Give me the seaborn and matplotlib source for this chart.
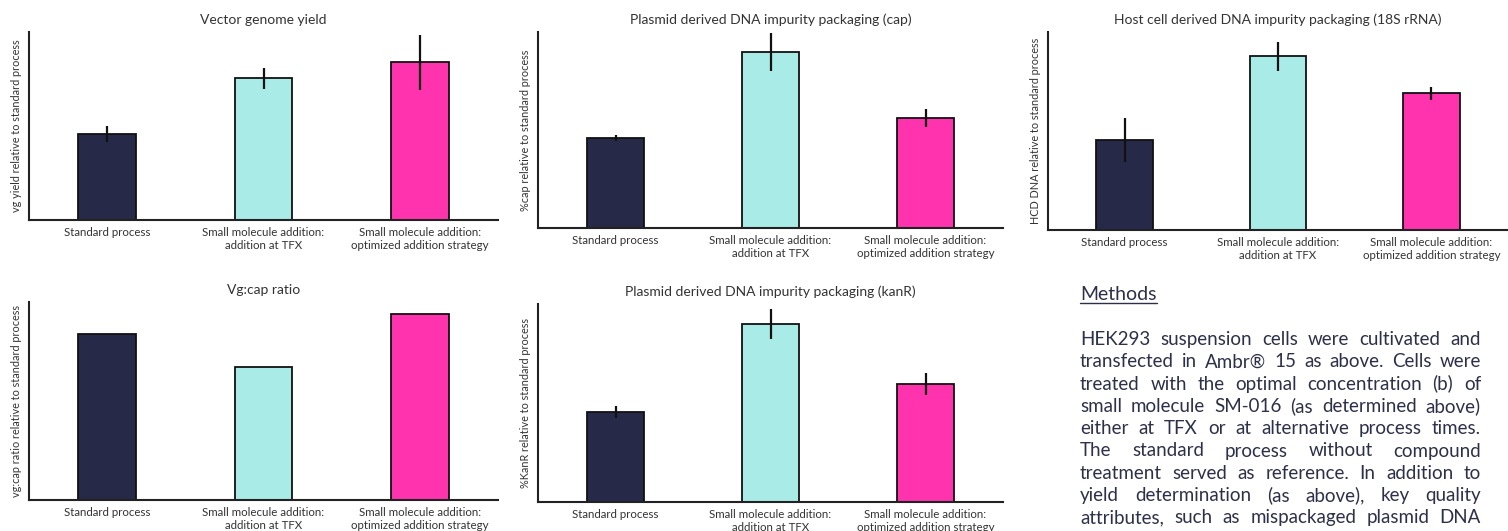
import pandas as pd
import seaborn as sns
import matplotlib.pyplot as plt
from matplotlib.lines import Line2D

# Categories and colours
groups = ['Standard process',
          'Small molecule addition:\naddition at TFX',
          'Small molecule addition:\noptimized addition strategy']
bar_colors = ['#262a48', '#a8ebe7', '#ff33ad']

# Values relative to standard process (no scale shown in the original)
vg_yield = [1.00, 1.65, 1.84]
vg_yield_err = [0.09, 0.12, 0.32]
cap = [1.00, 1.96, 1.22]
cap_err = [0.03, 0.21, 0.10]
hcd = [1.00, 1.93, 1.52]
hcd_err = [0.24, 0.16, 0.07]
vg_cap_ratio = [1.00, 0.80, 1.12]
kanr = [1.00, 1.98, 1.31]
kanr_err = [0.07, 0.17, 0.12]

methods_lines = [
    'HEK293 suspension cells were cultivated and',
    'transfected in Ambr\u00ae 15 as above. Cells were',
    'treated with the optimal concentration (b) of',
    'small molecule SM-016 (as determined above)',
    'either at TFX or at alternative process times.',
    'The standard process without compound',
    'treatment served as reference. In addition to',
    'yield determination (as above), key quality',
    'attributes, such as mispackaged plasmid DNA',
]

sns.set_theme(style='white')
plt.rcParams['font.family'] = ['Lato', 'DejaVu Sans']
label_color = '#333333'

W, H = 1508, 531
fig = plt.figure(figsize=(W / 100, H / 100), dpi=100)


def px_rect(left, top, right, bottom):
    return [left / W, 1 - bottom / H, (right - left) / W, (bottom - top) / H]


def draw_panel(rect, values, errors, title, ylabel, ymax):
    ax = fig.add_axes(rect)
    df = pd.DataFrame({'group': groups, 'value': values})
    sns.barplot(data=df, x='group', y='value', hue='group', palette=bar_colors,
                saturation=1, width=0.37, edgecolor='#111111', linewidth=1.3,
                legend=False, ax=ax)
    if errors is not None:
        ax.errorbar(range(len(groups)), values, yerr=errors, fmt='none',
                    ecolor='#111111', elinewidth=1.6, capsize=0)
    ax.set_xlim(-0.5, 2.5)
    ax.set_ylim(0, ymax)
    ax.set_yticks([])
    ax.set_xlabel('')
    ax.set_ylabel(ylabel, fontsize=7.8, color=label_color, labelpad=5)
    ax.set_title(title, fontsize=10, color=label_color, pad=6)
    ax.tick_params(axis='x', length=0, pad=5, labelsize=8.3, labelcolor=label_color)
    for lbl in ax.get_xticklabels():
        lbl.set_linespacing(1.25)
    sns.despine(ax=ax)
    for side in ['left', 'bottom']:
        ax.spines[side].set_linewidth(1.5)
        ax.spines[side].set_color('#222222')
    return ax


draw_panel(px_rect(29, 32, 498, 220), vg_yield, vg_yield_err,
           'Vector genome yield', 'vg yield relative to standard process', 2.19)
draw_panel(px_rect(538, 32, 1003, 228), cap, cap_err,
           'Plasmid derived DNA impurity packaging (cap)', '%cap relative to standard process', 2.18)
draw_panel(px_rect(1048, 32, 1508, 230), hcd, hcd_err,
           'Host cell derived DNA impurity packaging (18S rRNA)', 'HCD DNA relative to standard process', 2.2)
draw_panel(px_rect(29, 302, 498, 500), vg_cap_ratio, None,
           'Vg:cap ratio', 'vg:cap ratio relative to standard process', 1.19)
draw_panel(px_rect(538, 304, 1003, 502), kanr, kanr_err,
           'Plasmid derived DNA impurity packaging (kanR)', '%KanR relative to standard process', 2.2)

# Methods text block, justified word by word
text_color = '#2d3049'
body_size = 13.5
x0, x1 = 1080, 1481
renderer = fig.canvas.get_renderer()

head = fig.text(x0 / W, 1 - 300 / H, 'Methods', fontsize=14, color=text_color,
                ha='left', va='baseline')
hb = head.get_window_extent(renderer)
fig.add_artist(Line2D([hb.x0 / W, hb.x1 / W], [(H - 302.5) / H] * 2,
                      color=text_color, linewidth=1.0))

for i, line in enumerate(methods_lines):
    y = 1 - (345 + i * 22.3) / H
    words = line.split(' ')
    texts = [fig.text(0, y, w, fontsize=body_size, color=text_color, ha='left', va='baseline')
             for w in words]
    widths = [t.get_window_extent(renderer).width for t in texts]
    gap = (x1 - x0 - sum(widths)) / (len(words) - 1)
    x = x0
    for t, w in zip(texts, widths):
        t.set_x(x / W)
        x += w + gap

fig.savefig('out.png', dpi=100, facecolor='white')
